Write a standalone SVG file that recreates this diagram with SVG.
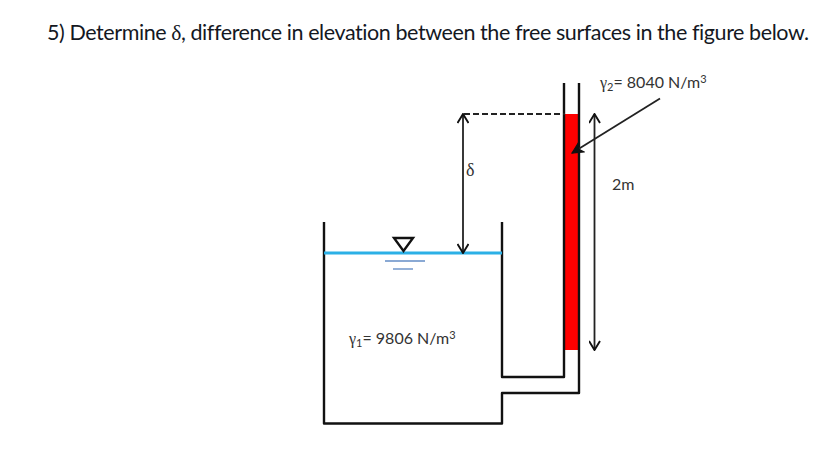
<svg xmlns="http://www.w3.org/2000/svg" width="832" height="452" viewBox="0 0 832 452">
<style>
text{font-family:"Lato","Noto Sans",sans-serif;fill:#262626;font-variant-ligatures:none}
.g{font-family:"Liberation Serif",serif}
.title{font-size:21.500px;fill:#14181f}
.lbl{font-size:16px;fill:#333}
.wall{fill:none;stroke:#111;stroke-width:2.400}
.dim{fill:none;stroke:#222;stroke-width:1.800}
</style>
<defs>
<marker id="open" viewBox="0 0 12 12" refX="11" refY="6" markerWidth="12" markerHeight="12" markerUnits="userSpaceOnUse" orient="auto-start-reverse">
<path d="M2 0.500L11 6L2 11.500" fill="none" stroke="#111" stroke-width="1.900"/>
</marker>
<marker id="solid" viewBox="0 0 12 12" refX="11" refY="6" markerWidth="13" markerHeight="13" markerUnits="userSpaceOnUse" orient="auto">
<path d="M1 1L11 6L1 11L4 6Z" fill="#111" stroke="#111"/>
</marker>
</defs>
<rect width="832" height="452" fill="#fff"/>
<text class="title" x="47" y="40" textLength="762" lengthAdjust="spacing">5) Determine <tspan class="g">δ</tspan>, difference in elevation between the free surfaces in the figure below.</text>
<g id="manometer-fluid"><rect x="565" y="114" width="14" height="236" fill="#f00"/></g>
<g id="vessel">
<path class="wall" stroke-linejoin="round" d="M324 222V423.500H502V393H579V83"/>
<path class="wall" stroke-linejoin="round" d="M502 222V377H564V83"/>
</g>
<g id="water-surface">
<line x1="324" y1="253" x2="502" y2="253" stroke="#2bb0e6" stroke-width="2.800"/>
<path d="M394 238H413L403.500 251Z" fill="#fff" stroke="#111" stroke-width="2.400"/>
<line x1="385" y1="261" x2="425" y2="261" stroke="#8aa9d4" stroke-width="1.800"/>
<line x1="393" y1="269" x2="413" y2="269" stroke="#8aa9d4" stroke-width="1.800"/>
</g>
<g id="connectors">
<line class="dim" x1="463" y1="114" x2="463" y2="253" marker-start="url(#open)" marker-end="url(#open)"/>
<line x1="464" y1="114" x2="565" y2="114" stroke="#222" stroke-width="1.800" stroke-dasharray="6 3"/>
<line class="dim" x1="594.500" y1="114" x2="594.500" y2="350" marker-start="url(#open)" marker-end="url(#open)"/>
<line class="dim" x1="660" y1="98.500" x2="572" y2="153" marker-end="url(#solid)"/>
</g>
<g id="labels">
<text class="lbl g" x="466" y="176" style="font-size:18px">δ</text>
<text class="lbl" x="612" y="190">2m</text>
<text class="lbl" x="600" y="88"><tspan class="g">γ</tspan><tspan font-size="11" dy="3">2</tspan><tspan dy="-3">= 8040 N/m</tspan><tspan font-size="11" dy="-5">3</tspan></text>
<text class="lbl" x="349" y="344"><tspan class="g">γ</tspan><tspan font-size="11" dy="3">1</tspan><tspan dy="-3">= 9806 N/m</tspan><tspan font-size="11" dy="-5">3</tspan></text>
</g>
</svg>
